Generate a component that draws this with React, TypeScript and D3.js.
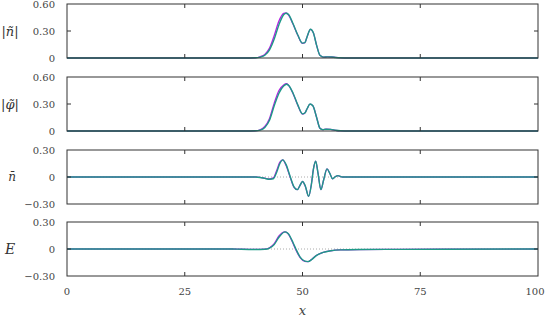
import React from "react";
import * as d3 from "d3";

// ---- data ----
const xTicks = [0, 25, 50, 75, 100];
const absTicks = [0, 0.3, 0.6];
const absTickLabels = ["0", "0.30", "0.60"];
const sgnTicks = [-0.3, 0, 0.3];
const sgnTickLabels = ["\u22120.30", "0", "0.30"];

const nAbsX = [0, 38, 40, 41, 42, 43, 44, 45, 46, 46.5, 47, 48, 49, 50, 50.5, 51, 51.7, 52.3, 53, 53.7, 54.5, 55.3, 56.2, 57, 58, 60, 100];
const nAbsTeal = [0, 0, 0.002, 0.01, 0.03, 0.09, 0.21, 0.37, 0.48, 0.497, 0.485, 0.38, 0.256, 0.165, 0.17, 0.24, 0.32, 0.28, 0.14, 0.03, 0.01, 0.012, 0.011, 0.006, 0.002, 0, 0];
const nAbsPurple = [0, 0, 0.003, 0.014, 0.04, 0.11, 0.25, 0.41, 0.495, 0.5, 0.48, 0.375, 0.252, 0.163, 0.17, 0.24, 0.318, 0.28, 0.14, 0.03, 0.01, 0.012, 0.011, 0.006, 0.002, 0, 0];

const phiAbsX = [0, 38, 40, 41, 42, 43, 44, 45, 46, 46.6, 47, 48, 49, 50, 50.5, 51, 51.6, 52.2, 53, 53.7, 54.3, 55, 56, 57, 58, 60, 100];
const phiAbsTeal = [0, 0, 0.002, 0.01, 0.04, 0.12, 0.28, 0.42, 0.5, 0.52, 0.51, 0.42, 0.29, 0.19, 0.2, 0.25, 0.3, 0.28, 0.15, 0.03, 0.015, 0.02, 0.018, 0.008, 0.002, 0, 0];
const phiAbsPurple = [0, 0, 0.003, 0.014, 0.05, 0.14, 0.31, 0.45, 0.51, 0.525, 0.51, 0.415, 0.285, 0.188, 0.2, 0.25, 0.298, 0.28, 0.15, 0.03, 0.015, 0.02, 0.018, 0.008, 0.002, 0, 0];

const nBarX = [0, 40, 41, 42, 43, 43.8, 44.5, 45.2, 45.8, 46.5, 47.3, 48.2, 48.9, 49.5, 50.0, 50.6, 51.3, 51.9, 52.3, 52.8, 53.3, 53.9, 54.5, 55.2, 55.8, 56.4, 57.0, 57.5, 58.5, 100];
const nBarTeal = [0, 0, -0.005, -0.015, -0.025, -0.02, 0.05, 0.15, 0.19, 0.14, 0.02, -0.11, -0.14, -0.09, -0.05, -0.1, -0.215, -0.08, 0.08, 0.175, 0.04, -0.14, -0.03, 0.09, 0.04, -0.02, 0.005, 0.015, 0, 0];
const nBarPurple = [0, 0, -0.005, -0.014, -0.022, -0.01, 0.07, 0.165, 0.19, 0.13, 0.01, -0.115, -0.14, -0.09, -0.05, -0.105, -0.215, -0.075, 0.085, 0.175, 0.04, -0.14, -0.03, 0.09, 0.04, -0.02, 0.005, 0.015, 0, 0];

const eX = [0, 35, 37, 40, 42, 43, 44, 45, 46.3, 47, 48, 48.6, 49.5, 50.5, 51.2, 52, 53, 54.4, 56, 58, 62, 70, 80, 100];
const eTeal = [0, 0, -0.003, -0.005, -0.003, 0.01, 0.05, 0.13, 0.19, 0.17, 0.07, 0, -0.09, -0.135, -0.14, -0.115, -0.07, -0.037, -0.02, -0.01, -0.006, -0.004, -0.002, 0];
const ePurple = [0, 0, -0.003, -0.005, -0.002, 0.014, 0.06, 0.145, 0.19, 0.165, 0.06, -0.01, -0.095, -0.137, -0.14, -0.113, -0.07, -0.037, -0.02, -0.01, -0.006, -0.004, -0.002, 0];

const TEAL = "#1e9a88";
const PURPLE = "#b020e0";
const FONT = "DejaVu Serif";

const W = 546, H = 317;
const left = 67, right = 538;
const panelH = 54;
const panelTops = [4, 77, 150, 222];

const x = d3.scaleLinear().domain([0, 100]).range([left, right]);

type Panel = {
  xs: number[];
  purple: number[];
  teal: number[];
  domain: [number, number];
  ticks: number[];
  labels: string[];
  zeroLine: boolean;
  kind: string;
};

const panels: Panel[] = [
  { xs: nAbsX, purple: nAbsPurple, teal: nAbsTeal, domain: [0, 0.6], ticks: absTicks, labels: absTickLabels, zeroLine: false, kind: "n" },
  { xs: phiAbsX, purple: phiAbsPurple, teal: phiAbsTeal, domain: [0, 0.6], ticks: absTicks, labels: absTickLabels, zeroLine: false, kind: "phi" },
  { xs: nBarX, purple: nBarPurple, teal: nBarTeal, domain: [-0.3, 0.3], ticks: sgnTicks, labels: sgnTickLabels, zeroLine: true, kind: "nbar" },
  { xs: eX, purple: ePurple, teal: eTeal, domain: [-0.3, 0.3], ticks: sgnTicks, labels: sgnTickLabels, zeroLine: true, kind: "E" },
];

function YLabel({ kind, cy }: { kind: string; cy: number }) {
  const common = { fontFamily: FONT, fill: "#333", dy: "0.35em" } as const;
  if (kind === "n")
    return (
      <text x={10} y={cy} textAnchor="middle" fontSize={13} {...common}>
        <tspan>|</tspan><tspan fontStyle="italic">ñ</tspan><tspan>|</tspan>
      </text>
    );
  if (kind === "phi")
    return (
      <text x={10} y={cy} textAnchor="middle" fontSize={13} {...common}>
        <tspan>|</tspan><tspan fontStyle="italic">{"\u03c6\u0303"}</tspan><tspan>|</tspan>
      </text>
    );
  if (kind === "nbar")
    return (
      <text x={12} y={cy} textAnchor="middle" fontSize={12} fontStyle="italic" {...common}>{"n\u0304"}</text>
    );
  return (
    <text x={10} y={cy} textAnchor="middle" fontSize={14} fontStyle="italic" {...common}>E</text>
  );
}

function PanelView({ p, top }: { p: Panel; top: number }) {
  const y = d3.scaleLinear().domain(p.domain).range([top + panelH, top]);
  const line = d3
    .line<number>()
    .x((_, i) => x(p.xs[i]))
    .y((d) => y(d))
    .curve(d3.curveMonotoneX);
  const tl = 4;
  const mid = (p.domain[0] + p.domain[1]) / 2;
  return (
    <g>
      {p.zeroLine && (
        <line x1={left} x2={right} y1={y(0)} y2={y(0)} stroke="#aaa" strokeWidth={1} strokeDasharray="1,2" />
      )}
      <path d={line(p.purple) || ""} fill="none" stroke={PURPLE} strokeWidth={1.3} />
      <path d={line(p.teal) || ""} fill="none" stroke={TEAL} strokeWidth={1.4} />
      <rect x={left} y={top} width={right - left} height={panelH} fill="none" stroke="#333" strokeWidth={1} />
      {xTicks.slice(1, -1).map((t) => (
        <g key={t}>
          <line x1={x(t)} x2={x(t)} y1={top} y2={top + tl} stroke="#333" />
          <line x1={x(t)} x2={x(t)} y1={top + panelH} y2={top + panelH - tl} stroke="#333" />
        </g>
      ))}
      {p.ticks.map((t, i) => (
        <g key={t}>
          {t !== p.domain[0] && t !== p.domain[1] && (
            <>
              <line x1={left} x2={left + tl} y1={y(t)} y2={y(t)} stroke="#333" />
              <line x1={right} x2={right - tl} y1={y(t)} y2={y(t)} stroke="#333" />
            </>
          )}
          <text x={55} y={y(t)} dy="0.35em" textAnchor="end" fontSize={10} fill="#444" fontFamily={FONT}>
            {p.labels[i]}
          </text>
        </g>
      ))}
      <YLabel kind={p.kind} cy={y(mid)} />
    </g>
  );
}

export default function App() {
  const bottom = panelTops[3] + panelH;
  return (
    <svg width={W} height={H} style={{ position: "absolute", left: 0, top: 0 }}>
      <rect width={W} height={H} fill="white" />
      {panels.map((p, i) => (
        <PanelView key={i} p={p} top={panelTops[i]} />
      ))}
      {xTicks.map((t) => (
        <text key={t} x={Math.min(x(t), 535)} y={bottom + 15} dy="0.35em" textAnchor="middle" fontSize={10} fill="#444" fontFamily={FONT}>
          {t}
        </text>
      ))}
      <text x={x(50)} y={bottom + 34} dy="0.35em" textAnchor="middle" fontSize={13} fontStyle="italic" fill="#444" fontFamily={FONT}>
        x
      </text>
    </svg>
  );
}
